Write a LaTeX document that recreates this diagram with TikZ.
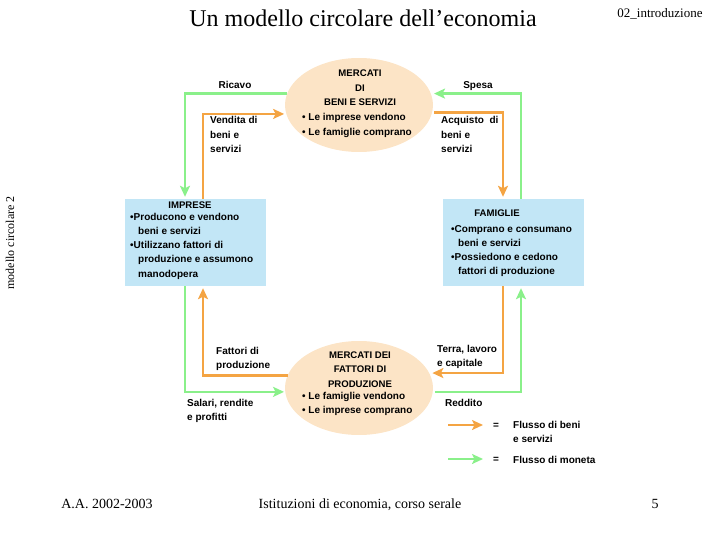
\documentclass[tikz,border=0pt]{standalone}
\usepackage{fontspec}
\setmainfont{Liberation Serif}
\newfontfamily\diagfont{Liberation Sans}
\usetikzlibrary{
    arrows.meta,
    positioning,
    shapes.geometric
}

\definecolor{mktfill}{HTML}{FCE4C6}
\definecolor{agentfill}{HTML}{C2E6F6}
\definecolor{goodsline}{HTML}{F4A443}
\definecolor{moneyline}{HTML}{8AF08A}

\begin{document}
\begin{tikzpicture}[
        x=1pt, y=-1pt,
        >={Stealth[length=11pt,width=10pt,inset=2.5pt]},
        market/.style={
            ellipse,
            fill=mktfill,
            minimum width=148pt,
            minimum height=94pt,
            inner sep=0pt
        },
        agent/.style={
            rectangle,
            fill=agentfill,
            minimum width=141pt,
            minimum height=87pt,
            inner sep=0pt
        },
        txt/.style={
            font=\diagfont\bfseries\fontsize{10}{14.3}\selectfont,
            align=left,
            inner sep=0pt
        },
        head/.style={
            font=\diagfont\bfseries\fontsize{9.6}{14.5}\selectfont,
            align=center,
            inner sep=0pt
        },
        slide/.style={
            font=\fontsize{14}{16}\selectfont,
            inner sep=0pt
        },
        goodsflow/.style={->, draw=goodsline, line width=2.5pt},
        moneyflow/.style={->, draw=moneyline, line width=2.5pt}
    ]
        \useasboundingbox (0,0) rectangle (720,540);

        % slide texts
        \node[slide, font=\fontsize{24}{28}\selectfont, anchor=base] (title) at (363,27) {Un modello circolare dell’economia};
        \node[slide, font=\fontsize{13}{15}\selectfont, anchor=base] (chapter) at (660,18) {02\_introduzione};
        \node[slide, font=\fontsize{12}{14}\selectfont, rotate=90, anchor=base] (sidenote) at (14,243) {modello circolare 2};
        \node[slide, anchor=base] (year) at (107,508) {A.A. 2002-2003};
        \node[slide, anchor=base] (course) at (360,508) {Istituzioni di economia, corso serale};
        \node[slide, anchor=base] (page) at (655,508) {5};

        % markets and agents (multi-line texts sit on their last baseline)
        \node[market] (mktbeni) at (359,105) {};
        \node[market] (mktfatt) at (359,388) {};
        \node[agent] (imprese) at (195.5,242.5) {};
        \node[agent] (famiglie) at (513,242.5) {};

        \node[head, anchor=base] (mktbenihead) at (360,106) {MERCATI\\DI\\BENI E SERVIZI};
        \node[txt, anchor=base west] (mktbenilist) at (302,135.3) {• Le imprese vendono\\• Le famiglie comprano};
        \node[head, anchor=base] (mktfatthead) at (360,387) {MERCATI DEI\\FATTORI DI\\PRODUZIONE};
        \node[txt, anchor=base west] (mktfattlist) at (302,413.3) {• Le famiglie vendono\\• Le imprese comprano};

        \node[head, anchor=base] (impresehead) at (190,209) {IMPRESE};
        \node[txt, anchor=base west] (impreselist) at (130,277.2)
            {•Producono e vendono\\\hspace*{8pt}beni e servizi\\•Utilizzano fattori di\\\hspace*{8pt}produzione e assumono\\\hspace*{8pt}manodopera};
        \node[head, anchor=base] (famigliehead) at (497,216) {FAMIGLIE};
        \node[txt, anchor=base west] (famiglielist) at (451,274.9)
            {•Comprano e consumano\\\hspace*{7pt}beni e servizi\\•Possiedono e cedono\\\hspace*{7pt}fattori di produzione};

        % flows
        \draw[moneyflow, shorten >=2pt] (mktbeni.171) -| ([xshift=-10.5pt]imprese.north);
        \draw[goodsflow, shorten >=2pt] ([xshift=7.5pt]imprese.north) |- (mktbeni.187);
        \draw[moneyflow, shorten >=3pt] ([xshift=8pt]famiglie.north) |- (mktbeni.9);
        \draw[goodsflow, shorten >=2pt, shorten <=2pt] (mktbeni.354) -| ([xshift=-10pt]famiglie.north);
        \draw[goodsflow, shorten >=2pt] (mktfatt.170) -| ([xshift=7.5pt]imprese.south);
        \draw[moneyflow, shorten >=1pt] ([xshift=-10.5pt]imprese.south) |- (mktfatt.183);
        \draw[goodsflow, shorten >=3pt] ([xshift=-10pt]famiglie.south) |- (mktfatt.12);
        \draw[moneyflow, shorten >=2pt, shorten <=2pt] (mktfatt.357) -| ([xshift=8pt]famiglie.south);

        % flow labels
        \node[txt, anchor=base] (ricavo) at (235,89) {Ricavo};
        \node[txt, anchor=base west] (vendita) at (210,152.6) {Vendita di\\beni e\\servizi};
        \node[txt, anchor=base] (spesa) at (478,89) {Spesa};
        \node[txt, anchor=base west] (acquisto) at (441,152.6) {Acquisto\ \ di\\beni e\\servizi};
        \node[txt, anchor=base west] (fattori) at (216,368.3) {Fattori di\\produzione};
        \node[txt, anchor=base west] (salari) at (187,420.3) {Salari, rendite\\e profitti};
        \node[txt, anchor=base west] (terra) at (437,366.3) {Terra, lavoro\\e capitale};
        \node[txt, anchor=base west] (reddito) at (445,406) {Reddito};

        % legend
        \coordinate (legbenia) at (448,425);
        \coordinate (legbenib) at (483,425);
        \coordinate (legmonetaa) at (448,459);
        \coordinate (legmonetab) at (483,459);
        \draw[goodsflow] (legbenia) -- (legbenib);
        \draw[moneyflow] (legmonetaa) -- (legmonetab);
        \node[txt, anchor=base] (eqbeni) at (496,428) {=};
        \node[txt, anchor=base] (eqmoneta) at (496,462) {=};
        \node[txt, anchor=base west] (legbeni) at (513,442.3) {Flusso di beni\\e servizi};
        \node[txt, anchor=base west] (legmoneta) at (513,463) {Flusso di moneta};
    \end{tikzpicture}
\end{document}
